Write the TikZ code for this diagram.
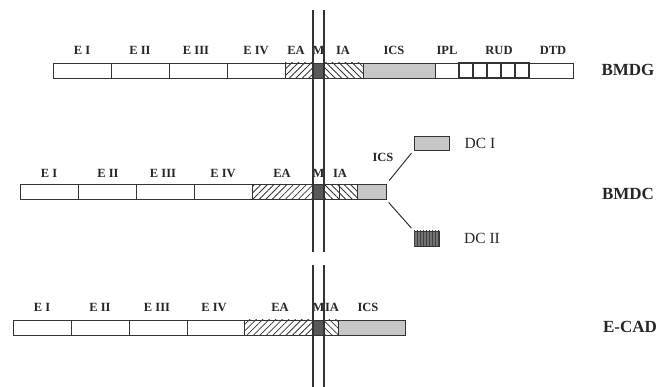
\documentclass[tikz,border=0pt]{standalone}
\usepackage{fontspec}
\setmainfont{Liberation Serif}
\usetikzlibrary{patterns.meta,positioning}

\begin{document}
\begin{tikzpicture}[x=1pt,y=-1pt,
    seg/.style={draw=black!80, line width=0.8pt, minimum height=15pt,
                inner sep=0pt, outer sep=0pt, anchor=west},
    fwd/.style={seg, pattern={Lines[angle=45,distance=4.6pt,line width=0.8pt]},
                pattern color=black!80},
    bwd/.style={seg, pattern={Lines[angle=-45,distance=4.6pt,line width=0.8pt]},
                pattern color=black!80},
    mid/.style={seg, fill=black!65},
    ics/.style={seg, fill=black!22},
    rud/.style={seg, line width=1.3pt, minimum width=14pt},
    lbl/.style={font=\fontsize{12.5}{14}\selectfont\bfseries, text=black!85,
                anchor=base, inner sep=0pt},
    gene/.style={font=\fontsize{17}{19}\selectfont\bfseries, text=black!85},
    dclbl/.style={font=\fontsize{15.5}{17}\selectfont, text=black!85},
    conn/.style={draw=black!80, line width=1pt},
    axis/.style={draw=black!80, line width=1.3pt}
  ]
    \useasboundingbox (0,0) rectangle (665,387);

    % BMDG
    \node[seg, minimum width=58pt] (gE1)  at (53,70.5)  {};
    \node[seg, minimum width=58pt] (gE2)  at (111,70.5) {};
    \node[seg, minimum width=58pt] (gE3)  at (169,70.5) {};
    \node[seg, minimum width=58pt] (gE4)  at (227,70.5) {};
    \node[fwd, minimum width=28pt] (gEA)  at (285,70.5) {};
    \node[mid, minimum width=11pt] (gM)   at (313,70.5) {};
    \node[bwd, minimum width=39pt] (gIA)  at (324,70.5) {};
    \node[ics, minimum width=72pt] (gICS) at (363,70.5) {};
    \node[seg, minimum width=24pt] (gIPL) at (435,70.5) {};
    \foreach \i in {0,...,4}
      \node[rud] (gR\i) at (459+14*\i,70.5) {};
    \node[seg, minimum width=44pt] (gDTD) at (529,70.5) {};

    \node[lbl] at (82,54.5)  {E I};
    \node[lbl] at (140,54.5) {E II};
    \node[lbl] at (196,54.5) {E III};
    \node[lbl] at (256,54.5) {E IV};
    \node[lbl] at (296,54.5) {EA};
    \node[lbl] at (318.5,54.5) {M};
    \node[lbl] at (343,54.5) {IA};
    \node[lbl] at (394,54.5) {ICS};
    \node[lbl] at (447,54.5) {IPL};
    \node[lbl] at (499,54.5) {RUD};
    \node[lbl] at (553,54.5) {DTD};
    \node[gene] at (628,70) {BMDG};

    % BMDC
    \node[seg, minimum width=58pt] (cE1)  at (20,192)  {};
    \node[seg, minimum width=58pt] (cE2)  at (78,192)  {};
    \node[seg, minimum width=58pt] (cE3)  at (136,192) {};
    \node[seg, minimum width=58pt] (cE4)  at (194,192) {};
    \node[fwd, minimum width=61pt] (cEA)  at (252,192) {};
    \node[mid, minimum width=11pt] (cM)   at (313,192) {};
    \node[bwd, minimum width=15pt] (cIA)  at (324,192) {};
    \node[bwd, minimum width=18pt] (cIB)  at (339,192) {};
    \node[ics, minimum width=29pt] (cICS) at (357,192) {};

    \node[lbl] at (49,177.5)  {E I};
    \node[lbl] at (108,177.5) {E II};
    \node[lbl] at (163,177.5) {E III};
    \node[lbl] at (223,177.5) {E IV};
    \node[lbl] at (282,177.5) {EA};
    \node[lbl] at (318.5,177.5) {M};
    \node[lbl] at (340,177.5) {IA};
    \node[lbl] at (383,161.5) {ICS};
    \node[gene] at (628,194) {BMDC};

    \node[ics, anchor=center, minimum width=35pt, minimum height=14pt] (dcA) at (431.5,143) {};
    \node[seg, anchor=center, minimum width=25pt, fill=black!55,
          postaction={pattern={Lines[angle=90,distance=3pt,line width=0.5pt]},
                      pattern color=black!75}] (dcB) at (426.5,238.5) {};
    \node[dclbl] at (480,143) {DC I};
    \node[dclbl] at (482,238) {DC II};

    \draw[conn, shorten <=5pt, shorten >=4pt] (cICS.north east) -- (dcA.south west);
    \draw[conn, shorten <=4pt, shorten >=4pt] (cICS.south east) -- (dcB.north west);

    % E-CAD
    \node[seg, minimum width=58pt] (eE1)  at (13,327.5)  {};
    \node[seg, minimum width=58pt] (eE2)  at (71,327.5)  {};
    \node[seg, minimum width=58pt] (eE3)  at (129,327.5) {};
    \node[seg, minimum width=57pt] (eE4)  at (187,327.5) {};
    \node[fwd, minimum width=69pt] (eEA)  at (244,327.5) {};
    \node[mid, minimum width=11pt] (eM)   at (313,327.5) {};
    \node[bwd, minimum width=14pt] (eIA)  at (324,327.5) {};
    \node[ics, minimum width=67pt] (eICS) at (338,327.5) {};

    \node[lbl] at (42,311.5)  {E I};
    \node[lbl] at (100,311.5) {E II};
    \node[lbl] at (157,311.5) {E III};
    \node[lbl] at (214,311.5) {E IV};
    \node[lbl] at (280,311.5) {EA};
    \node[lbl] at (318.5,311.5) {M};
    \node[lbl] at (332,311.5) {IA};
    \node[lbl] at (368,311.5) {ICS};
    \node[gene] at (630,327) {E-CAD};

    % vertical marks through M
    \draw[axis] (313,10) -- (313,252) (324,10) -- (324,252);
    \draw[axis] (313,265) -- (313,387) (324,265) -- (324,387);
\end{tikzpicture}
\end{document}
